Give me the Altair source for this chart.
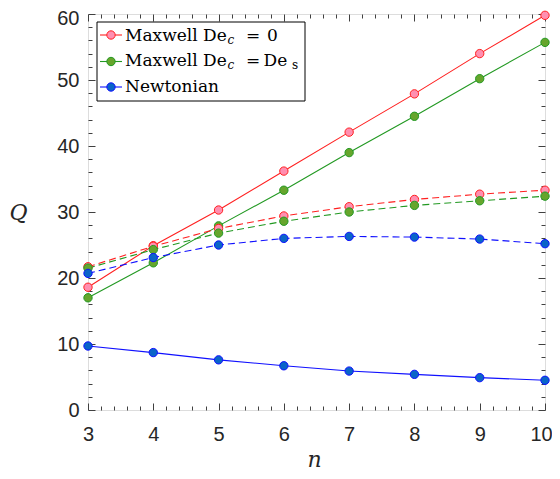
import altair as alt
import pandas as pd

# ---------------- data ----------------
n = [3, 4, 5, 6, 7, 8, 9, 10]
maxwell0_solid = [18.6, 24.9, 30.3, 36.2, 42.1, 47.9, 54.0, 59.8]
maxwellDes_solid = [17.0, 22.3, 27.9, 33.3, 39.0, 44.5, 50.2, 55.7]
newtonian_solid = [9.7, 8.7, 7.6, 6.7, 5.9, 5.4, 4.9, 4.5]
maxwell0_dashed = [21.7, 24.8, 27.5, 29.4, 30.8, 31.9, 32.7, 33.3]
maxwellDes_dashed = [21.5, 24.3, 26.8, 28.6, 30.0, 31.0, 31.7, 32.4]
newtonian_dashed = [20.7, 23.1, 25.0, 26.0, 26.3, 26.2, 25.9, 25.2]

models = ["Maxwell0", "MaxwellDes", "Newtonian"]
line_colors = ["#ff2020", "#229922", "#1010ff"]
fill_colors = ["#ff8fb0", "#66a52c", "#0a64c8"]

x_major = [3, 4, 5, 6, 7, 8, 9, 10]
x_ticks = [round(3 + 0.2 * i, 1) for i in range(36)]
y_major = [0, 10, 20, 30, 40, 50, 60]
y_ticks = list(range(0, 61, 2))

rows = []
for model, style, vals in [
    ("Maxwell0", "solid", maxwell0_solid),
    ("MaxwellDes", "solid", maxwellDes_solid),
    ("Newtonian", "solid", newtonian_solid),
    ("Maxwell0", "dashed", maxwell0_dashed),
    ("MaxwellDes", "dashed", maxwellDes_dashed),
    ("Newtonian", "dashed", newtonian_dashed),
]:
    for xi, v in zip(n, vals):
        rows.append({"n": xi, "Q": v, "model": model, "style": style})
df = pd.DataFrame(rows)

W, H = 457, 396
AX = "#404040"
SERIF = "DejaVu Serif"

xs = alt.Scale(domain=[3, 10], nice=False, zero=False)
ys = alt.Scale(domain=[0, 60], nice=False, zero=False)
stroke_scale = alt.Scale(domain=models, range=line_colors)
fill_scale = alt.Scale(domain=models, range=fill_colors)

x_size = {"condition": {"test": "abs(datum.value - round(datum.value)) < 0.001", "value": 7}, "value": 4}
y_size = {"condition": {"test": "datum.value % 10 === 0", "value": 7}, "value": 4}

x_lab_axis = alt.Axis(values=x_major, ticks=False, domain=False, grid=False,
                      labelFont="Liberation Sans", labelFontSize=20, labelColor="#262626",
                      labelPadding=14, labelFlush=False,
                      labelOffset={"condition": {"test": "datum.value === 10", "value": -4}, "value": 0},
                      title="n", titleFont=SERIF, titleFontStyle="italic",
                      titleFontWeight="normal", titleFontSize=22, titleColor="#262626",
                      titleX=226, titleY=56, titleBaseline="alphabetic", titleAlign="center")
y_lab_axis = alt.Axis(values=y_major, ticks=False, domain=False, grid=False,
                      labelFont="Liberation Sans", labelFontSize=20, labelColor="#262626",
                      labelPadding=9, labelFlush=False,
                      labelOffset={"condition": {"test": "datum.value === 60", "value": 4}, "value": 0},
                      title="Q", titleFont=SERIF, titleFontStyle="italic",
                      titleFontWeight="normal", titleFontSize=22, titleColor="#262626",
                      titleAngle=0, titleX=-70, titleY=205, titleBaseline="alphabetic",
                      titleAlign="center")

x_in_bottom = alt.Axis(orient="top", offset=-H, values=x_ticks, labels=False, domain=False,
                       grid=False, tickSize=x_size, tickColor=AX, tickWidth=1)
x_in_top = alt.Axis(orient="bottom", offset=-H, values=x_ticks, labels=False, domain=False,
                    grid=False, tickSize=x_size, tickColor=AX, tickWidth=1)
y_in_left = alt.Axis(orient="right", offset=-W, values=y_ticks, labels=False, domain=False,
                     grid=False, tickSize=y_size, tickColor=AX, tickWidth=1)
y_in_right = alt.Axis(orient="left", offset=-W, values=y_ticks, labels=False, domain=False,
                      grid=False, tickSize=y_size, tickColor=AX, tickWidth=1)

base = alt.Chart(df)

solid = base.transform_filter(alt.datum.style == "solid").mark_line(strokeWidth=1.1).encode(
    x=alt.X("n:Q", scale=xs, axis=x_lab_axis),
    y=alt.Y("Q:Q", scale=ys, axis=y_lab_axis),
    stroke=alt.Stroke("model:N", scale=stroke_scale, legend=None),
    detail="model:N",
)
dashed = base.transform_filter(alt.datum.style == "dashed").mark_line(
    strokeWidth=1.1, strokeDash=[7, 4]).encode(
    x=alt.X("n:Q", scale=xs, axis=x_in_bottom, title=None),
    y=alt.Y("Q:Q", scale=ys, axis=y_in_left, title=None),
    stroke=alt.Stroke("model:N", scale=stroke_scale, legend=None),
    detail="model:N",
)
points = base.mark_point(shape="circle", filled=True, size=70, strokeWidth=1, opacity=1).encode(
    x=alt.X("n:Q", scale=xs, axis=x_in_top, title=None),
    y=alt.Y("Q:Q", scale=ys, axis=y_in_right, title=None),
    fill=alt.Fill("model:N", scale=fill_scale, legend=None),
    stroke=alt.Stroke("model:N", scale=stroke_scale, legend=None),
)

one = alt.Data(values=[{}])
legend_layers = [
    alt.Chart(one).mark_rect(fill="white", stroke="#000000", strokeWidth=1).encode(
        x=alt.value(9), x2=alt.value(217), y=alt.value(8), y2=alt.value(87))
]
row_y = [21, 47.5, 73]
for i, yy in enumerate(row_y):
    legend_layers.append(alt.Chart(one).mark_rule(color=line_colors[i], strokeWidth=1.1).encode(
        x=alt.value(12), x2=alt.value(34), y=alt.value(yy)))
    legend_layers.append(alt.Chart(one).mark_point(
        shape="circle", filled=True, size=70, fill=fill_colors[i], stroke=line_colors[i],
        strokeWidth=1, opacity=1).encode(x=alt.value(23), y=alt.value(yy)))


def txt(s, x, y, size, style="normal"):
    return alt.Chart(one).mark_text(text=s, align="left", baseline="alphabetic",
                                    font=SERIF, fontSize=size, fontStyle=style,
                                    color="black").encode(
        x=alt.value(x), y=alt.value(y))


legend_layers += [
    txt("Maxwell De", 37, 26.7, 17), txt("c", 139.5, 29.5, 12, "italic"), txt("=", 158, 26.7, 17),
    txt("0", 179, 26.7, 17),
    txt("Maxwell De", 37, 52.3, 17), txt("c", 139.5, 55.1, 12, "italic"), txt("=", 158, 52.3, 17),
    txt("De", 175.5, 52.3, 17), txt("s", 204, 55.1, 12),
    txt("Newtonian", 37, 77.8, 17),
]

chart = alt.layer(solid, dashed, points, *legend_layers).resolve_axis(
    x="independent", y="independent").properties(
    width=W, height=H,
    autosize=alt.AutoSizeParams(type="none"),
    padding={"left": 80, "top": 6, "right": 7, "bottom": 61},
).configure_view(stroke=AX, strokeWidth=1).configure(background="white")

chart.save("out.html", embed_options={"renderer": "svg", "actions": False})
